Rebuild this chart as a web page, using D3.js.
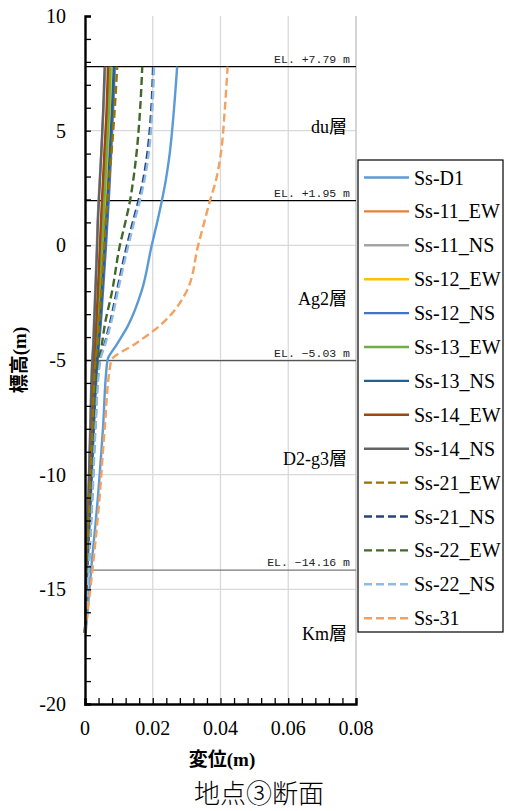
<!DOCTYPE html>
<html>
<meta charset="utf-8">
<script src="https://d3js.org/d3.v7.min.js"></script>
<style>
  body { margin: 0; background: #fff; }
  text { font-family: "Liberation Serif", "Noto Sans CJK JP", serif; }
</style>
<body>
<script>

// elevation points (m) shared by every profile
var elevations = [7.79, 6, 4, 2.8, 1.95, 1, 0, -2, -3.5, -4.3, -5.03, -8, -11, -14.16, -16.9];

// displacement (m) at each elevation
var ssD1   = [0.0272, 0.0263, 0.0250, 0.0238, 0.0227, 0.0213, 0.0197, 0.0167, 0.0127, 0.0095, 0.0066, 0.0053, 0.0038, 0.0018, 0.0002];
var ss11EW = [0.0070, 0.0066, 0.0059, 0.0055, 0.0052, 0.0049, 0.0046, 0.0040, 0.0035, 0.0032, 0.0029, 0.0020, 0.0013, 0.0005, 0.0000];
var ss11NS = [0.0060, 0.0055, 0.0048, 0.0043, 0.0040, 0.0037, 0.0035, 0.0030, 0.0026, 0.0024, 0.0021, 0.0015, 0.0010, 0.0004, 0.0000];
var ss12EW = [0.0078, 0.0073, 0.0066, 0.0062, 0.0059, 0.0056, 0.0052, 0.0045, 0.0039, 0.0036, 0.0033, 0.0023, 0.0015, 0.0006, 0.0000];
var ss12NS = [0.0088, 0.0083, 0.0077, 0.0073, 0.0070, 0.0066, 0.0062, 0.0053, 0.0046, 0.0041, 0.0037, 0.0026, 0.0017, 0.0007, 0.0000];
var ss13EW = [0.0075, 0.0071, 0.0064, 0.0060, 0.0057, 0.0054, 0.0050, 0.0043, 0.0037, 0.0034, 0.0031, 0.0022, 0.0014, 0.0006, 0.0000];
var ss13NS = [0.0085, 0.0080, 0.0073, 0.0069, 0.0066, 0.0062, 0.0058, 0.0050, 0.0043, 0.0039, 0.0035, 0.0025, 0.0016, 0.0006, 0.0000];
var ss14EW = [0.0068, 0.0064, 0.0057, 0.0053, 0.0050, 0.0047, 0.0044, 0.0038, 0.0033, 0.0030, 0.0027, 0.0019, 0.0012, 0.0005, 0.0000];
var ss14NS = [0.0058, 0.0054, 0.0048, 0.0044, 0.0041, 0.0038, 0.0036, 0.0031, 0.0027, 0.0025, 0.0022, 0.0016, 0.0010, 0.0004, 0.0000];
var ss21EW = [0.0095, 0.0088, 0.0078, 0.0071, 0.0066, 0.0061, 0.0057, 0.0048, 0.0041, 0.0037, 0.0031, 0.0022, 0.0014, 0.0006, 0.0000];
var ss21NS = [0.0201, 0.0196, 0.0184, 0.0171, 0.0158, 0.0141, 0.0124, 0.0094, 0.0072, 0.0058, 0.0043, 0.0030, 0.0021, 0.0010, 0.0000];
var ss22EW = [0.0169, 0.0163, 0.0152, 0.0142, 0.0133, 0.0119, 0.0103, 0.0080, 0.0058, 0.0050, 0.0041, 0.0029, 0.0020, 0.0010, 0.0000];
var ss22NS = [0.0204, 0.0199, 0.0188, 0.0175, 0.0162, 0.0145, 0.0128, 0.0097, 0.0075, 0.0060, 0.0045, 0.0031, 0.0022, 0.0011, 0.0000];
var ss31   = [0.0421, 0.0413, 0.0401, 0.0386, 0.0369, 0.0352, 0.0334, 0.0300, 0.0221, 0.0148, 0.0077, 0.0058, 0.0043, 0.0022, 0.0000];

var seriesNames = ["Ss-D1", "Ss-11_EW", "Ss-11_NS", "Ss-12_EW", "Ss-12_NS", "Ss-13_EW", "Ss-13_NS",
                   "Ss-14_EW", "Ss-14_NS", "Ss-21_EW", "Ss-21_NS", "Ss-22_EW", "Ss-22_NS", "Ss-31"];
var seriesValues = [ssD1, ss11EW, ss11NS, ss12EW, ss12NS, ss13EW, ss13NS,
                    ss14EW, ss14NS, ss21EW, ss21NS, ss22EW, ss22NS, ss31];

// boundary levels and layer names
var boundaryLevels = [7.79, 1.95, -5.03, -14.16];
var boundaryLabels = ["EL. +7.79 m", "EL. +1.95 m", "EL. \u22125.03 m", "EL. \u221214.16 m"];
var layerNames = ["du層", "Ag2層", "D2-g3層", "Km層"];
var layerLevels = [4.9, -2.6, -9.6, -17.2];

var xTicks = [0, 0.02, 0.04, 0.06, 0.08];
var yTicks = [10, 5, 0, -5, -10, -15, -20];

// styles (kept apart from the data)
var colors = ["#5B9BD5", "#ED7D31", "#A5A5A5", "#FFC000", "#4472C4", "#70AD47", "#255E91",
              "#9E480E", "#636363", "#997300", "#264478", "#43682B", "#8DBBE5", "#F4A060"];
var dashed = [false, false, false, false, false, false, false, false, false, true, true, true, true, true];
var boundaryColors = ["#000", "#000", "#555", "#777"];

var plot = {left: 85, right: 356, top: 16, bottom: 704};

var svg = d3.select("body").append("svg")
  .attr("width", 505)
  .attr("height", 811);

var x = d3.scaleLinear().domain([0, 0.08]).range([plot.left, plot.right]);
var y = d3.scaleLinear().domain([-20, 10]).range([plot.bottom, plot.top]);

// gridlines
svg.append("g").selectAll("line")
  .data([0.02, 0.04, 0.06])
  .enter().append("line")
  .attr("x1", d => x(d)).attr("x2", d => x(d))
  .attr("y1", plot.top).attr("y2", plot.bottom)
  .attr("stroke", "#D9D9D9").attr("stroke-width", 1.3);
svg.append("g").selectAll("line")
  .data([5, 0, -5, -10, -15])
  .enter().append("line")
  .attr("x1", plot.left).attr("x2", plot.right)
  .attr("y1", d => y(d)).attr("y2", d => y(d))
  .attr("stroke", "#D9D9D9").attr("stroke-width", 1.3);
svg.append("line")
  .attr("x1", plot.right).attr("x2", plot.right)
  .attr("y1", plot.top).attr("y2", plot.bottom)
  .attr("stroke", "#BFBFBF").attr("stroke-width", 1.3);

// boundary lines
svg.append("g").selectAll("line")
  .data(boundaryLevels)
  .enter().append("line")
  .attr("x1", plot.left).attr("x2", plot.right)
  .attr("y1", d => y(d)).attr("y2", d => y(d))
  .attr("stroke", (d, i) => boundaryColors[i]).attr("stroke-width", 1.2);
svg.append("g").selectAll("text")
  .data(boundaryLevels)
  .enter().append("text")
  .attr("x", 350).attr("y", d => y(d) - 4)
  .attr("text-anchor", "end")
  .style("font-family", "'Liberation Mono', monospace")
  .style("font-size", "11.5px")
  .attr("fill", "#222")
  .text((d, i) => boundaryLabels[i]);

// layer names
svg.append("g").selectAll("text")
  .data(layerNames)
  .enter().append("text")
  .attr("x", 347).attr("y", (d, i) => y(layerLevels[i]))
  .attr("text-anchor", "end")
  .style("font-size", "18px")
  .text(d => d);

// profiles
var line = d3.line()
  .x(d => x(d.v))
  .y(d => y(d.e))
  .curve(d3.curveMonotoneY);

seriesValues.forEach(function(vals, i) {
  var pts = elevations.map((e, k) => ({e: e, v: vals[k]})).reverse();
  svg.append("path")
    .datum(pts)
    .attr("d", line)
    .attr("fill", "none")
    .attr("stroke", colors[i])
    .attr("stroke-width", 2.4)
    .attr("stroke-dasharray", dashed[i] ? "8,4" : null);
});

// axes
var xAxis = d3.axisBottom(x)
  .tickValues(d3.range(0, 0.0801, 0.004))
  .tickSize(-6)
  .tickFormat("");
var gx = svg.append("g")
  .attr("transform", `translate(0,${plot.bottom})`)
  .call(xAxis);
var yAxis = d3.axisLeft(y)
  .tickValues(d3.range(-20, 10.01, 1))
  .tickSize(-6)
  .tickFormat("");
var gy = svg.append("g")
  .attr("transform", `translate(${plot.left},0)`)
  .call(yAxis);
[gx, gy].forEach(function(g) {
  g.select(".domain").attr("stroke", "#000").attr("stroke-width", 2.4);
  g.selectAll(".tick line").attr("stroke", "#000").attr("stroke-width", 1.3);
});

// tick labels
svg.append("g").selectAll("text")
  .data(xTicks)
  .enter().append("text")
  .attr("x", d => x(d)).attr("y", 735)
  .attr("text-anchor", "middle")
  .style("font-size", "20px")
  .text(d => d === 0 ? "0" : d.toFixed(2));
svg.append("g").selectAll("text")
  .data(yTicks)
  .enter().append("text")
  .attr("x", 66).attr("y", d => y(d) + 7)
  .attr("text-anchor", "end")
  .style("font-size", "20px")
  .text(d => d);

// axis titles
svg.append("text")
  .attr("x", 222).attr("y", 766)
  .attr("text-anchor", "middle")
  .style("font-size", "19px").style("font-weight", "bold")
  .text("変位(m)");
svg.append("text")
  .attr("transform", "translate(26,360) rotate(-90)")
  .attr("text-anchor", "middle")
  .style("font-size", "19px").style("font-weight", "bold")
  .text("標高(m)");
svg.append("text")
  .attr("x", 259).attr("y", 803)
  .attr("text-anchor", "middle")
  .style("font-size", "26px")
  .style("font-family", "'Noto Sans CJK JP', sans-serif")
  .style("font-weight", "300")
  .text("地点③断面");

// legend
var legend = svg.append("g");
legend.append("rect")
  .attr("x", 358).attr("y", 160)
  .attr("width", 145).attr("height", 472)
  .attr("fill", "#fff").attr("stroke", "#000").attr("stroke-width", 1.2);
var items = legend.selectAll("g.item")
  .data(seriesNames)
  .enter().append("g")
  .attr("class", "item")
  .attr("transform", (d, i) => `translate(0,${177.5 + i * 33.9})`);
items.append("line")
  .attr("x1", 364).attr("x2", 409)
  .attr("stroke", (d, i) => colors[i])
  .attr("stroke-width", 2.4)
  .attr("stroke-dasharray", (d, i) => dashed[i] ? "8,4" : null);
items.append("text")
  .attr("x", 414).attr("y", 7)
  .style("font-size", "20px")
  .text(d => d);

</script>
</body>
</html>
